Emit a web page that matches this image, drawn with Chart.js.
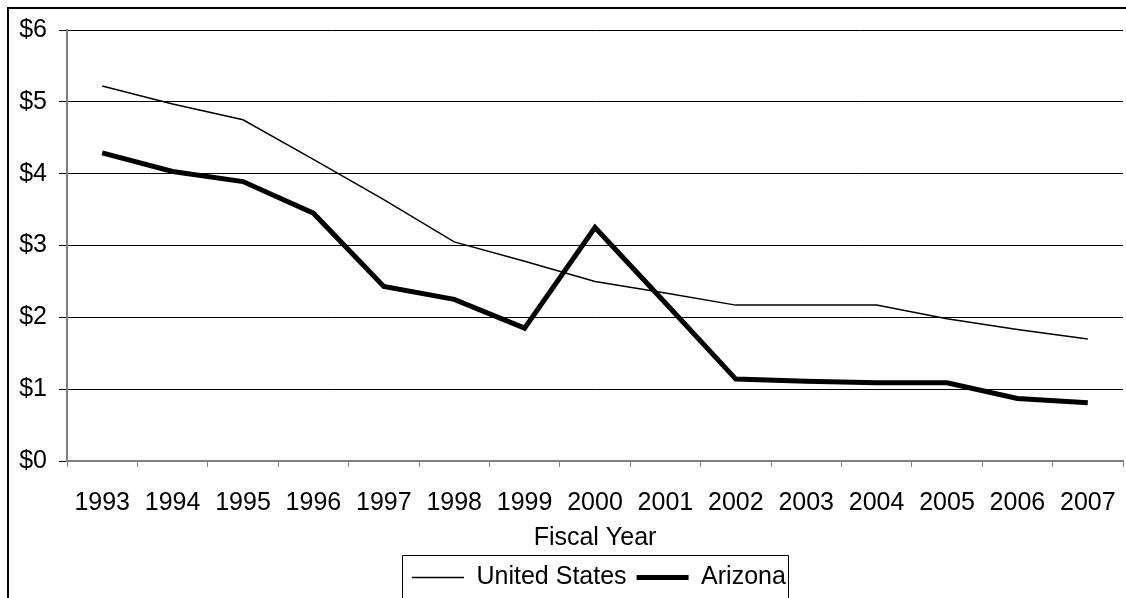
<!DOCTYPE html>
<html>
<head>
<meta charset="utf-8">
<script src="https://cdn.jsdelivr.net/npm/chart.js@4/dist/chart.umd.min.js"></script>
<style>
  html, body { margin: 0; padding: 0; background: #fff; overflow: hidden; }
  #wrap { position: absolute; left: 0; top: 0; width: 1126px; height: 600px; }
</style>
</head>
<body>
<div id="wrap"><canvas id="lineChart"></canvas></div>
<script>
// fiscal years on the x axis
var years = ['1993', '1994', '1995', '1996', '1997', '1998', '1999', '2000',
             '2001', '2002', '2003', '2004', '2005', '2006', '2007'];

// dollars per year
var unitedStates = [5.22, 4.97, 4.75, 4.20, 3.64, 3.05, 2.78, 2.50,
                    2.34, 2.17, 2.17, 2.17, 1.98, 1.83, 1.70];
var arizona = [4.29, 4.03, 3.89, 3.45, 2.43, 2.25, 1.85, 3.25,
               2.20, 1.14, 1.11, 1.09, 1.09, 0.87, 0.81];

var yTicks = [0, 1, 2, 3, 4, 5, 6];

var fontFamily = "'Liberation Sans', Arial, sans-serif";
var fontSize = 25;
var legendStartX = 412;

// where the legend row starts, using the same formula the legend draws with
function legendRowStart(legend) {
    var pad = legend.options.labels.padding;
    return (legend.left + pad + legend.right - legend.lineWidths[0]) / 2;
}

// nudges the legend row sideways, then draws the outer frame and legend box
var framePlugin = {
    id: 'frame',
    afterLayout: function (chart) {
        var legend = chart.legend;
        var shift = legendStartX - legendRowStart(legend);
        legend.left += shift;
        legend.right += shift;
    },
    afterDraw: function (chart) {
        var ctx = chart.ctx;
        ctx.save();
        ctx.strokeStyle = '#000';
        ctx.lineWidth = 2;
        ctx.beginPath();
        ctx.moveTo(8, chart.height + 5);
        ctx.lineTo(8, 8);
        ctx.lineTo(chart.width + 5, 8);
        ctx.stroke();

        var legend = chart.legend;
        var pad = legend.options.labels.padding;
        var start = legendRowStart(legend);
        var left = Math.round(start - 10) + 0.5;
        var right = Math.round(start + legend.lineWidths[0] - pad + 2) + 0.5;
        var top = Math.round(legend.top) + 0.5;
        ctx.lineWidth = 1;
        ctx.beginPath();
        ctx.moveTo(left, chart.height + 5);
        ctx.lineTo(left, top);
        ctx.lineTo(right, top);
        ctx.lineTo(right, chart.height + 5);
        ctx.stroke();
        ctx.restore();
    }
};

var ctx = document.getElementById('lineChart').getContext('2d');
var chart = new Chart(ctx, {
    type: 'line',
    data: {
        labels: years,
        datasets: [
            {
                label: 'United States',
                data: unitedStates,
                borderColor: '#000',
                backgroundColor: '#000',
                borderWidth: 1.5,
                pointRadius: 0,
                tension: 0,
                fill: false
            },
            {
                label: 'Arizona',
                data: arizona,
                borderColor: '#000',
                backgroundColor: '#000',
                borderWidth: 5,
                borderJoinStyle: 'miter',
                pointRadius: 0,
                tension: 0,
                fill: false
            }
        ]
    },
    options: {
        responsive: true,
        maintainAspectRatio: false,
        animation: false,
        layout: {
            padding: { top: 30, left: 0, right: 3, bottom: 0 }
        },
        plugins: {
            tooltip: { enabled: false },
            legend: {
                position: 'bottom',
                labels: {
                    usePointStyle: true,
                    pointStyle: 'line',
                    pointStyleWidth: 52,
                    padding: 10,
                    color: '#000',
                    font: { family: fontFamily, size: fontSize }
                }
            }
        },
        scales: {
            x: {
                offset: true,
                grid: {
                    offset: true,
                    drawOnChartArea: false,
                    tickLength: 6,
                    tickColor: '#808080'
                },
                border: { color: '#808080', width: 2 },
                ticks: {
                    color: '#000',
                    padding: 21,
                    maxRotation: 0,
                    autoSkip: false,
                    font: { family: fontFamily, size: fontSize }
                },
                title: {
                    display: true,
                    text: 'Fiscal Year',
                    color: '#000',
                    padding: { top: 0, bottom: 2 },
                    font: { family: fontFamily, size: fontSize }
                },
                afterFit: function (scale) {
                    scale.height = 94;
                    // labels sit inside their category slots, no side padding needed
                    scale.paddingLeft = 0;
                    scale.paddingRight = 0;
                }
            },
            y: {
                min: 0,
                max: 6,
                afterBuildTicks: function (scale) {
                    scale.ticks = yTicks.map(function (v) { return { value: v }; });
                },
                grid: {
                    color: '#000',
                    tickLength: 8,
                    tickColor: '#000'
                },
                border: { color: '#808080', width: 2 },
                ticks: {
                    color: '#000',
                    padding: 12,
                    font: { family: fontFamily, size: fontSize },
                    callback: function (value) { return '$' + value; }
                },
                afterFit: function (scale) { scale.width = 67; }
            }
        }
    },
    plugins: [framePlugin]
});
</script>
</body>
</html>
